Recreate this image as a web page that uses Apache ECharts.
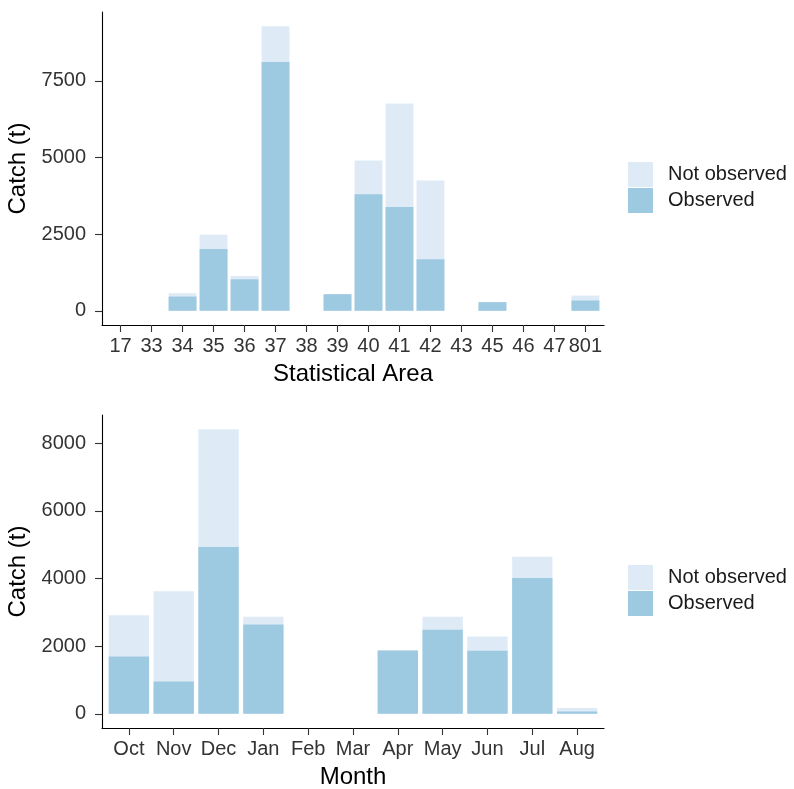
<!DOCTYPE html>
<html><head><meta charset="utf-8">
<script src="https://cdn.jsdelivr.net/npm/echarts@6/dist/echarts.min.js"></script>
<style>html,body{margin:0;padding:0;background:#fff}#c{width:794px;height:789px}</style>
</head><body><div id="c"></div>
<script>
// ---- Data ----
const areaCategories = ['17','33','34','35','36','37','38','39','40','41','42','43','45','46','47','801'];
const areaObserved    = [0, 0, 465, 2013, 1028, 8117, 0, 541, 3799, 3387, 1678, 0, 282, 0, 0, 335];
const areaNotObserved = [0, 0, 109,  465,  108, 1169, 0,   0, 1104, 3377, 2575, 0,   0, 0, 0, 162];
const areaYTicks = [0, 2500, 5000, 7500];

const monthCategories = ['Oct','Nov','Dec','Jan','Feb','Mar','Apr','May','Jun','Jul','Aug'];
const monthObserved    = [1696,  951, 4926, 2638, 0, 0, 1873, 2482, 1864, 4014,  70];
const monthNotObserved = [1219, 2671, 3484,  227, 0, 0,    0,  383,  421,  627, 100];
const monthYTicks = [0, 2000, 4000, 6000, 8000];

const seriesNames = ['Not observed', 'Observed'];
const xTitles = ['Statistical Area', 'Month'];
const yTitle = 'Catch (t)';

// ---- Styles ----
const COL_OBS = '#9ECAE1';
const COL_NOT = '#DEEBF7';
const FONT = 'Liberation Sans, Arial, sans-serif';
const TICK_COL = '#333333';

const chart = echarts.init(document.getElementById('c'), null, {renderer: 'canvas'});

function panel(idx, cats, obs, notObs, yTicks, xName) {
  // stacked top of each column = observed + not observed
  const stackTop = obs.map((v, i) => v + notObs[i]);
  const maxT = Math.max.apply(null, stackTop);
  const pad = maxT * 0.05;
  const idxs = cats.map((c, i) => i);
  const xAxis = {
    type: 'value', gridIndex: idx,
    min: -0.6, max: cats.length - 1 + 0.6,
    splitLine: {show: false},
    axisLine: {show: true, onZero: false, lineStyle: {color: '#000', width: 1.1}},
    axisTick: {show: true, customValues: idxs, length: 7, lineStyle: {color: TICK_COL, width: 1.1}},
    axisLabel: {show: true, customValues: idxs, formatter: v => cats[Math.round(v)],
      fontSize: 20, color: TICK_COL, margin: 11, fontFamily: FONT},
    name: xName, nameLocation: 'middle', nameGap: 37,
    nameTextStyle: {fontSize: 24, color: '#000', fontFamily: FONT}
  };
  const yAxis = {
    type: 'value', gridIndex: idx,
    min: -pad, max: maxT + pad,
    splitLine: {show: false},
    axisLine: {show: true, onZero: false, lineStyle: {color: '#000', width: 1.1}},
    axisTick: {show: true, customValues: yTicks, length: 7, lineStyle: {color: TICK_COL, width: 1.1}},
    axisLabel: {show: true, customValues: yTicks, formatter: v => String(Math.round(v)),
      fontSize: 20, color: TICK_COL, margin: 16, fontFamily: FONT},
    name: yTitle, nameLocation: 'middle', nameGap: 54, nameRotate: 90,
    nameTextStyle: {fontSize: 24, color: '#000', fontFamily: FONT}
  };
  const series = [
    {name: 'Not observed', type: 'bar', xAxisIndex: idx, yAxisIndex: idx,
     barCategoryGap: '10%', barGap: '-100%', itemStyle: {color: COL_NOT}, z: 2,
     data: stackTop.map((v, i) => [i, v])},
    {name: 'Observed', type: 'bar', xAxisIndex: idx, yAxisIndex: idx,
     barCategoryGap: '10%', barGap: '-100%', itemStyle: {color: COL_OBS}, z: 3,
     data: obs.map((v, i) => [i, v])}
  ];
  return {xAxis, yAxis, series};
}

const p1 = panel(0, areaCategories, areaObserved, areaNotObserved, areaYTicks, xTitles[0]);
const p2 = panel(1, monthCategories, monthObserved, monthNotObserved, monthYTicks, xTitles[1]);

function legend(top) {
  return {
    orient: 'vertical', left: 628, top: top, padding: 0,
    data: seriesNames, icon: 'rect', itemWidth: 25, itemHeight: 25, itemGap: 1,
    selectedMode: false,
    textStyle: {fontSize: 20, color: '#1a1a1a', fontFamily: FONT, padding: [3, 0, 0, 10]}
  };
}

chart.setOption({
  animation: false,
  backgroundColor: '#fff',
  grid: [
    {left: 102, top: 12, width: 502, height: 313, outerBoundsMode: 'none'},
    {left: 102, top: 415, width: 502, height: 313, outerBoundsMode: 'none'}
  ],
  legend: [legend(162), legend(565)],
  xAxis: [p1.xAxis, p2.xAxis],
  yAxis: [p1.yAxis, p2.yAxis],
  series: p1.series.concat(p2.series)
});
</script>
</body></html>
